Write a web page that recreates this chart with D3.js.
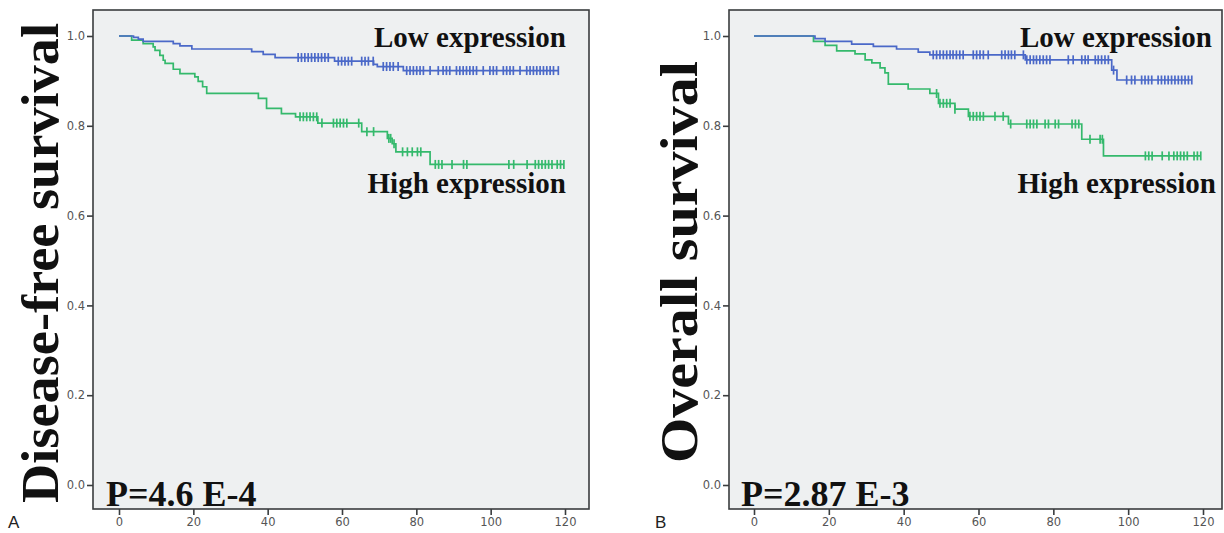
<!DOCTYPE html>
<html><head><meta charset="utf-8">
<script src="https://cdn.jsdelivr.net/npm/d3@7"></script>
<style>body{margin:0;background:#fff}svg{display:block}</style>
</head><body>
<svg id="c" width="1224" height="533"></svg>
<script>
// ---------- data ----------
const xTicks = [0, 20, 40, 60, 80, 100, 120];
const yTicks = [0.0, 0.2, 0.4, 0.6, 0.8, 1.0];

// Panel A: disease-free survival
const dfsLowTimes = [0, 3.9, 5.2, 6.5, 14.6, 16.4, 19.6, 35.7, 38.8, 42, 58, 68.5, 69.5, 76.5];
const dfsLowSurv  = [1, 0.997, 0.993, 0.988, 0.983, 0.978, 0.971, 0.965, 0.959, 0.952, 0.944, 0.937, 0.932, 0.923];
const dfsLowCensor = [48.2,49.1,50,50.9,51.8,52.7,53.6,54.5,55.4,56.3,59,59.9,60.8,61.7,62.6,65.3,66.2,67.1,68.4,71.1,72,72.9,73.8,75.1,77.4,78.3,79.2,80.1,81,81.9,83.7,85.9,87.2,88.1,89,90.8,91.7,92.6,93.5,94.4,95.3,96.2,98,99.8,100.7,101.6,103.4,104.3,105.2,106.1,107.9,109.7,110.6,111.5,112.4,113.3,114.2,115.1,116,116.9,118.2];

const dfsHighTimes = [0, 3.4, 6.5, 9.2, 9.7, 11, 11.9, 12.4, 14.6, 16.4, 20.4, 21.3, 22.5, 23.6, 37.5, 39.7, 43.7, 47.5, 53.5, 65.3, 72.2, 73.5, 74.5, 83.7];
const dfsHighSurv  = [1, 0.991, 0.983, 0.976, 0.968, 0.957, 0.946, 0.939, 0.926, 0.916, 0.909, 0.899, 0.887, 0.872, 0.861, 0.839, 0.827, 0.820, 0.806, 0.787, 0.772, 0.760, 0.742, 0.714];
const dfsHighCensor = [48.7,49.6,50.5,51.4,52.3,53.2,54.6,57.7,58.6,59.5,60.4,61.3,64.5,66.7,68.5,72.6,73.1,74,76.3,77.6,78.9,80.3,81.2,85.1,86,86.9,89.6,92.7,93.6,104.9,106.2,109.8,112,112.9,113.8,114.7,115.6,116.5,117.9,118.8,119.7];

// Panel B: overall survival
const osLowTimes = [0, 16.3, 19, 26.1, 31.9, 38.1, 43.9, 47, 72.5, 95.6, 97];
const osLowSurv  = [1, 0.994, 0.988, 0.982, 0.977, 0.971, 0.964, 0.958, 0.947, 0.924, 0.902];
const osLowCensor = [47.9,48.8,49.7,50.6,51.5,52.4,53.2,54.1,55,55.9,58.6,59.5,60.4,61.3,62.6,66.2,67.1,68,68.8,69.7,72,72.9,73.8,74.7,75.5,76.4,77.3,78.2,79.1,84,85.3,87.6,88.5,89.3,91.2,92,92.9,93.8,94.7,96.1,99.6,100.9,101.8,103.6,104.5,105.4,106.3,108,108.9,109.8,110.7,111.6,112.5,113.4,114.3,115.2,116.1,117];

const osHighTimes = [0, 15.9, 19, 22.1, 27, 29.7, 31.5, 33.7, 35, 35.9, 41.2, 47, 49.3, 53.7, 57.3, 68, 87.6, 93.4];
const osHighSurv  = [1, 0.988, 0.979, 0.967, 0.960, 0.947, 0.940, 0.929, 0.918, 0.893, 0.882, 0.872, 0.850, 0.837, 0.821, 0.804, 0.770, 0.733];
const osHighCensor = [48.8,49.7,50.6,51.5,52.4,53.7,57.7,58.6,59.5,60.4,61.3,64.4,66.6,68.6,72.9,73.8,74.7,75.6,77.8,78.7,80.5,81.4,85,85.9,86.8,89.8,92.5,93.1,104.6,105.5,106.4,109.1,110.9,112.2,113.1,114,114.9,115.8,117.6,118.5,119.4];

const panelLabels = ["A", "B"];
const yTitles = ["Disease-free survival", "Overall survival"];
const pValues = ["P=4.6 E-4", "P=2.87 E-3"];
const seriesNames = ["Low expression", "High expression"];

// ---------- drawing ----------
const svg = d3.select("#c");
const blue = "#4a68c8", green = "#34b96c";

const panels = [
  {frame:[93, 10, 589, 509], xr:[119, 565], label:panelLabels[0], labelX:8, title:yTitles[0], titleBase:58, titleMid:263, titleLen:480, p:pValues[0], pX:106,
   low:{t:dfsLowTimes, s:dfsLowSurv, c:dfsLowCensor}, high:{t:dfsHighTimes, s:dfsHighSurv, c:dfsHighCensor},
   lowTextX:566, highTextX:566},
  {frame:[729, 10, 1222, 509], xr:[754, 1203], label:panelLabels[1], labelX:655, title:yTitles[1], titleBase:697, titleMid:262, titleLen:402, p:pValues[1], pX:741,
   low:{t:osLowTimes, s:osLowSurv, c:osLowCensor}, high:{t:osHighTimes, s:osHighSurv, c:osHighCensor},
   lowTextX:1212, highTextX:1216}
];

function survAt(ser, t){
  let v = ser.s[0];
  for (let i = 0; i < ser.t.length; i++) if (ser.t[i] <= t) v = ser.s[i];
  return v;
}

panels.forEach(p => {
  const [fx0, fy0, fx1, fy1] = p.frame;
  const x = d3.scaleLinear().domain([0, 120]).range(p.xr);
  const y = d3.scaleLinear().domain([0, 1]).range([485, 36]);
  const g = svg.append("g");

  g.append("rect").attr("x", fx0).attr("y", fy0).attr("width", fx1 - fx0).attr("height", fy1 - fy0)
    .attr("fill", "#eef0f1").attr("stroke", "#3a3d3f").attr("stroke-width", 1.6);

  // y axis
  const ya = g.append("g").attr("transform", `translate(${fx0},0)`)
    .call(d3.axisLeft(y).tickValues(yTicks).tickFormat(d3.format(".1f")).tickSize(6).tickSizeOuter(0).tickPadding(2));
  ya.select(".domain").remove();
  ya.selectAll("line").attr("stroke", "#3a3d3f").attr("stroke-width", 1.6);
  ya.selectAll("text").attr("font-family", "DejaVu Sans").attr("font-size", 11.5).attr("fill", "#555");

  // x axis
  const xa = g.append("g").attr("transform", `translate(0,${fy1})`)
    .call(d3.axisBottom(x).tickValues(xTicks).tickFormat(d3.format("d")).tickSize(6).tickSizeOuter(0).tickPadding(3));
  xa.select(".domain").remove();
  xa.selectAll("line").attr("stroke", "#3a3d3f").attr("stroke-width", 1.6);
  xa.selectAll("text").attr("font-family", "DejaVu Sans").attr("font-size", 11.5).attr("fill", "#555");

  // curves
  [[p.high, green], [p.low, blue]].forEach(([ser, col]) => {
    const end = d3.max(ser.c);
    const pts = ser.t.map((t, i) => [t, ser.s[i]]);
    pts.push([end, ser.s[ser.s.length - 1]]);
    const line = d3.line().x(d => x(d[0])).y(d => y(d[1])).curve(d3.curveStepAfter);
    g.append("path").attr("d", line(pts)).attr("fill", "none").attr("stroke", col).attr("stroke-width", 1.7);
    g.selectAll(null).data(ser.c).enter().append("line")
      .attr("x1", d => x(d)).attr("x2", d => x(d))
      .attr("y1", d => y(survAt(ser, d)) - 4.5).attr("y2", d => y(survAt(ser, d)) + 4.5)
      .attr("stroke", col).attr("stroke-width", 1.7);
  });

  // series labels
  g.append("text").attr("x", p.lowTextX).attr("y", 47).attr("text-anchor", "end")
    .attr("font-family", "Liberation Serif").attr("font-weight", "bold").attr("font-size", 29).attr("fill", "#111")
    .text(seriesNames[0]);
  g.append("text").attr("x", p.highTextX).attr("y", 193).attr("text-anchor", "end")
    .attr("font-family", "Liberation Serif").attr("font-weight", "bold").attr("font-size", 29).attr("fill", "#111")
    .text(seriesNames[1]);

  // p-value
  g.append("text").attr("x", p.pX).attr("y", 506)
    .attr("font-family", "Liberation Serif").attr("font-weight", "bold").attr("font-size", 36).attr("fill", "#111")
    .text(p.p);

  // y title
  g.append("text").attr("transform", `translate(${p.titleBase},${p.titleMid}) rotate(-90)`)
    .attr("text-anchor", "middle")
    .attr("textLength", p.titleLen).attr("lengthAdjust", "spacingAndGlyphs")
    .attr("font-family", "Liberation Serif").attr("font-weight", "bold").attr("font-size", 53).attr("fill", "#111")
    .text(p.title);

  // panel label
  g.append("text").attr("x", p.labelX).attr("y", 528)
    .attr("font-family", "Liberation Sans").attr("font-size", 17).attr("fill", "#222")
    .text(p.label);
});
</script>
</body></html>
